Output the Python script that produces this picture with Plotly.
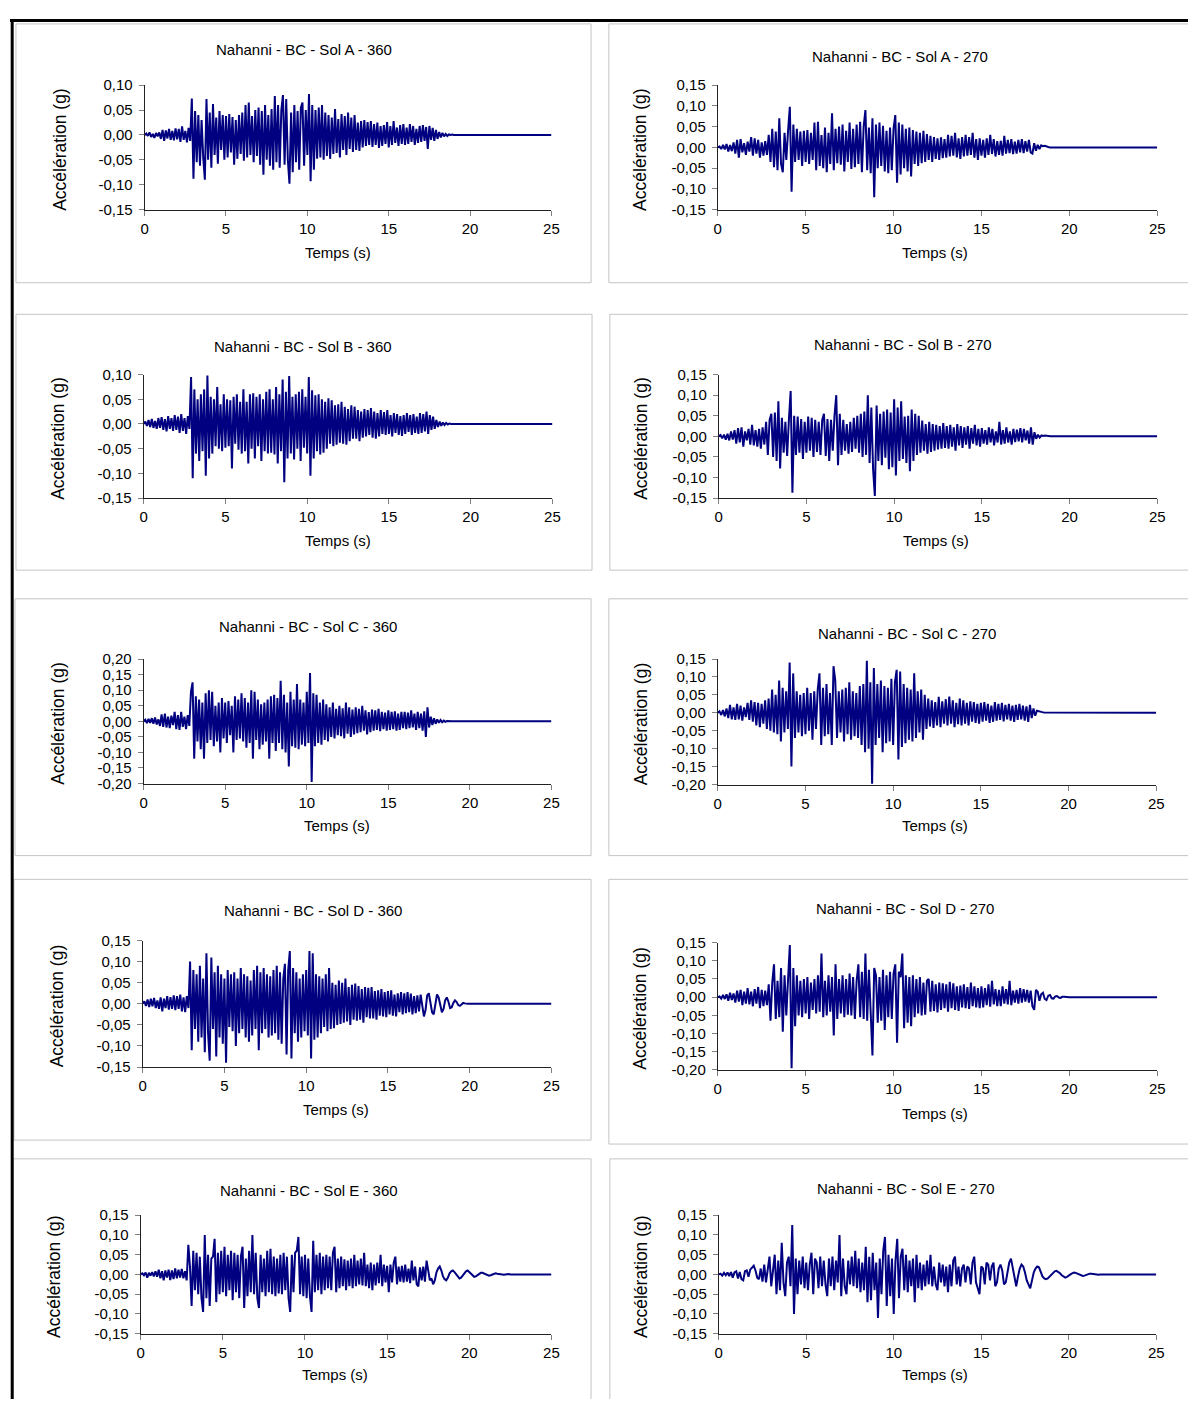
import plotly.graph_objects as go

W, H = 1196, 1407          # size of the page as photographed
PAGE_MARGIN = 8            # default body margin of the html page
FIG_W, FIG_H = W - 2 * PAGE_MARGIN, H - 2 * PAGE_MARGIN
DT = 0.1          # sampling step of the digitised records (s)
T_END = 25.0      # end of record (s)
TAIL_VALUE = 0    # record is at rest at the end
SCALE = 1000.0    # values below are in milli-g

TITLES = [
    "Nahanni - BC - Sol A - 360", "Nahanni - BC - Sol A - 270",
    "Nahanni - BC - Sol B - 360", "Nahanni - BC - Sol B - 270",
    "Nahanni - BC - Sol C - 360", "Nahanni - BC - Sol C - 270",
    "Nahanni - BC - Sol D - 360", "Nahanni - BC - Sol D - 270",
    "Nahanni - BC - Sol E - 360", "Nahanni - BC - Sol E - 270",
]
Y_LABEL = "Accélération (g)"
X_LABEL = "Temps (s)"
X_TICKS = [0, 5, 10, 15, 20, 25]
Y_STEP = 0.05
Y_RANGES = [(-0.15, 0.10), (-0.15, 0.15), (-0.15, 0.10), (-0.15, 0.15),
            (-0.20, 0.20), (-0.20, 0.15), (-0.15, 0.15), (-0.20, 0.15),
            (-0.15, 0.15), (-0.15, 0.15)]

A360 = [
    0, 3, -2, 5, -4, 2, -6, 4, -3, 5,
    -8, 10, -12, 9, -7, 12, -10, 8, -11, 13,
    -9, 12, -14, 17, -10, 8, -15, 14, -12, 73,
    -88, 48, -55, 40, -62, 30, -45, -90, 72, -50,
    45, -66, 62, -40, 35, -58, 48, -30, 40, -50,
    38, -45, 42, -35, 36, -60, 30, -48, 40, -38,
    45, -52, 60, -45, 65, -40, 38, -55, 50, -42,
    55, -60, 48, -80, 60, -50, 40, -62, 52, -70,
    78, -55, 60, -66, 50, 80, -60, 72, -50, -98,
    45, -75, 60, -55, 48, -70, 55, 65, -62, 50,
    -40, 82, -93, 60, -70, 50, -48, 55, -45, 60,
    -50, 45, -42, 40, -48, 35, -38, 52, -36, 32,
    -45, 42, -30, 38, -40, 45, -28, 35, -34, 40,
    -30, 25, -32, 28, -25, 30, -22, 26, -20, 28,
    -24, 22, -20, 25, -26, 18, -22, 20, -18, 26,
    -25, 18, -20, 28, -16, 15, -22, 20, -18, 22,
    -20, 15, -18, 22, -14, 18, -20, 12, -16, 18,
    -14, 20, -12, 16, -28, 18, -10, 14, -12, 10,
    -8, 6, -5, 4, -3, 2, -2, 1, 0, 1,
    0,
]

A270 = [
    0, 2, -4, 6, -5, 8, -10, 6, -9, 12,
    -15, 18, -25, 20, -12, 10, -18, 14, -10, 25,
    -20, 22, -15, 18, -25, 12, -20, 15, -18, 30,
    -35, 45, -48, 38, -55, 70, -40, -60, 35, -30,
    40, 98, -107, 55, -35, 45, -30, 38, -45, 40,
    -35, 42, -40, 35, -30, 60, -55, 62, -45, 30,
    -50, 48, -60, 35, -40, 82, -55, 45, -38, 50,
    -42, 55, -58, 40, -35, 60, -52, 45, -48, 55,
    -40, 62, -60, 50, 90, -55, 48, -62, 70, -120,
    55, -50, 60, -45, 52, -58, 40, -62, 48, -55,
    45, 78, -85, 60, -65, 55, -50, 45, -58, 48,
    -70, 42, -40, 38, -45, 35, -38, 40, -35, 32,
    -30, 28, -35, 25, -28, 22, -30, 24, -26, 20,
    -25, 30, -22, 28, -20, 35, -24, 22, -28, 25,
    -22, 30, -20, 25, -18, 35, -25, 20, -30, 22,
    -20, 18, -25, 22, -18, 30, -16, 20, -22, 15,
    -18, 16, -20, 28, -15, 18, -14, 20, -16, 14,
    -15, 18, -12, 20, -14, 15, -10, 18, -12, -15,
    10, -8, 6, -4, 5, 3, 4, 2, 1, 0,
    0,
]

B360 = [
    0, 5, -4, 8, -6, 10, -8, 6, -10, 12,
    -8, 14, -12, 10, -15, 16, -10, 12, -14, 18,
    -12, 15, -18, 20, -14, 12, -20, 16, -10, 95,
    -110, 70, -60, 50, -75, 60, -55, 70, -105, 98,
    -70, 55, -60, 50, -45, 75, -50, 40, -55, 60,
    -48, 50, -45, 48, -90, 55, -40, 60, -52, 45,
    -60, 70, -55, 45, -80, 60, -50, 62, -70, 55,
    -45, 60, -75, 50, -55, 65, -60, 70, -58, 50,
    -62, 75, -80, 60, -55, 90, -118, 65, -70, 97,
    -60, 55, -72, 60, -50, 65, -75, 70, -48, 55,
    -60, 95, -105, 68, -70, 58, -55, 60, -62, 50,
    -58, 45, -50, 52, -40, 48, -45, 38, -42, 40,
    -38, 45, -40, 35, -42, 30, -35, 38, -30, 35,
    -30, 28, -35, 25, -28, 30, -25, 28, -22, 32,
    -28, 25, -30, 22, -25, 28, -20, 24, -22, 28,
    -20, 18, -25, 22, -18, 20, -22, 16, -24, 18,
    -20, 22, -16, 18, -22, 20, -18, 15, -20, 22,
    -18, 20, -15, 25, -20, 18, -12, 15, -10, 8,
    -6, 5, -4, 3, -2, 2, -1, 1, 0, 0,
    0,
]

B270 = [
    0, 3, -5, 4, -8, 6, -10, 12, -8, 15,
    -18, 20, -15, 22, -25, 12, -10, 18, -20, 28,
    -22, 15, -25, 18, -30, 22, -20, 35, -45, 40,
    55, -50, 58, -60, 85, -78, 45, -40, 35, -48,
    40, 110, -137, 50, -45, 48, -40, 42, -55, 35,
    -40, 48, -35, 45, -50, 40, -38, 35, -45, 40,
    55, -48, 42, -60, 40, -35, 50, 100, -70, 55,
    -45, 40, -35, 30, -42, 35, -38, 45, -30, 50,
    -40, 55, -50, 60, -45, 100, -65, 70, -80, -145,
    75, -60, 55, -70, 60, -52, 65, -80, 58, -75,
    90, -95, 70, -60, 85, -55, 48, -65, 50, -85,
    65, -60, 55, -45, 50, -40, 38, -35, 30, -42,
    35, -38, 30, -35, 28, -32, 25, -30, 32, -28,
    25, -30, 28, -25, 22, -35, 30, -22, 25, -28,
    22, -20, 25, -30, 20, -18, 28, -22, 18, -25,
    20, -18, 15, -20, 22, -15, 18, -22, 12, -15,
    35, -20, 15, -18, 22, -15, 12, -20, 18, -14,
    16, -12, 20, -15, 18, -10, 14, -18, 22, -20,
    10, -6, 4, -3, 2, 1, 2, 1, 0, 0,
    0,
]

C360 = [
    0, 5, -6, 8, -5, 10, -8, 12, -10, 6,
    -15, 22, -18, 25, -20, 15, -22, 18, -12, 30,
    -25, 20, -28, 30, -18, 15, -25, 20, -15, 95,
    125, -120, 80, -65, 70, -90, 60, -120, 90, -70,
    100, -60, 95, -80, 50, -65, 60, -100, 75, -55,
    60, -70, 65, -45, 50, -100, 80, -60, 70, -55,
    90, -65, 75, -85, 60, -70, 100, -120, 95, -60,
    70, -90, 55, -75, 60, -65, 70, -120, 80, -70,
    85, -95, 75, -70, 130, -90, 85, -100, 60, -145,
    95, -80, 70, -85, 120, -90, 70, -75, 60, -80,
    95, -70, 155, -195, 90, -80, 85, -70, 60, -75,
    70, -60, 55, -65, 45, -50, 60, -55, 40, -45,
    50, -48, 42, -55, 60, -40, 45, -50, 38, -42,
    45, -38, 40, -35, 50, -30, 35, -42, 30, -35,
    38, -30, 35, -28, 40, -32, 30, -25, 28, -30,
    35, -28, 30, -25, 32, -30, 25, -28, 30, -22,
    30, -25, 28, -22, 35, -20, 25, -28, 30, -22,
    25, -30, 32, -50, 45, -20, 15, -12, 10, -8,
    6, -5, 4, -3, 2, -2, 1, 0, 1, 0,
    0,
]

C270 = [
    0, 4, -6, 8, -10, 12, -15, 22, -18, 15,
    -20, 25, -18, 20, -22, 15, -12, 28, -20, 35,
    -25, 30, -35, 28, -40, 25, -30, 35, -45, 40,
    -50, 65, -55, 50, -60, 90, -80, 70, -55, 60,
    -45, 140, -150, 110, -70, 60, -55, 50, -65, 55,
    -60, 70, -50, 55, -75, 60, -45, 65, 110, -90,
    70, -65, 80, -60, 55, -90, 130, 90, -70, 60,
    -55, 65, -80, 70, -60, 85, -75, 60, -65, 55,
    -70, 75, -90, 80, -110, 145, -100, 85, -198, 125,
    -90, 80, -70, 90, -110, 75, -85, 70, -80, 95,
    -90, 85, 120, -130, 115, -95, 80, -85, 70, -75,
    65, -80, 110, -70, 60, -55, 65, -75, 50, -45,
    40, -38, 35, -42, 30, -35, 45, -40, 32, -30,
    38, -35, 45, -30, 35, -40, 28, -32, 40, -35,
    35, -30, 28, -35, 32, -25, 30, -28, 25, -30,
    28, -25, 30, -22, 25, -28, 20, -25, 30, -22,
    25, -20, 28, -24, 22, -18, 25, -22, 20, -25,
    22, -20, 25, -18, 20, -22, 18, -25, 22, -15,
    12, -8, 6, 4, 3, 2, 1, 1, 0, 0,
    0,
]

D360 = [
    0, 6, -5, 10, -8, 12, -6, 14, -10, 8,
    -12, 15, -18, 12, -10, 18, -14, 16, -12, 20,
    -15, 18, -12, 22, -18, 15, -20, 18, -10, 100,
    -110, 80, -60, 70, -90, 90, -80, 60, -115, 120,
    -70, -135, 110, -60, 75, -125, 90, -80, 70, -95,
    60, -140, 80, -55, 70, -65, 75, -100, 60, -70,
    85, -60, 70, -80, 65, -90, 55, -75, 80, -60,
    90, -110, 75, -70, 85, -60, 70, -80, 65, -75,
    80, -70, 90, -85, 75, -95, 60, 95, -120, 80,
    125, -130, 85, -70, 75, -90, 60, -80, 70, -65,
    80, -75, 125, -130, 120, -85, 70, -80, 65, -70,
    60, -55, 70, -65, 85, -60, 50, -58, 45, -50,
    55, -48, 50, -45, 60, -42, 40, -50, 45, -38,
    48, -40, 42, -38, 35, -45, 40, -32, 38, -35,
    40, -35, 30, -38, 32, -28, 35, -30, 28, -32,
    30, -25, 32, -28, 22, -30, 25, -20, 28, -25,
    25, -22, 28, -20, 24, -25, 18, -22, 20, -18,
    22, -10, -30, -15, 20, 25, 5, -20, -25, 0,
    22, 15, -5, -20, -12, 8, 15, 5, -10, -8,
    2, 8, 4, -3, -5, -1, 2, 1, 0, 0,
    0,
]

D270 = [
    0, 2, -4, 6, -5, 8, -10, 12, -8, 10,
    -15, 18, -12, 20, -22, 15, -18, 25, -20, 15,
    -25, 22, -18, 28, -30, 20, -25, 18, -22, 35,
    -65, 40, 90, -60, 45, -55, 80, -95, 60, -50,
    50, 143, -195, 80, -80, 60, -50, 45, -55, 50,
    -45, 55, -60, 40, -35, 50, -45, 60, -40, 120,
    -55, 45, -50, 60, -40, 55, -105, 90, -60, 50,
    -45, 60, -55, 50, -48, 65, -50, 55, -60, 45,
    90, -55, 70, -60, 120, -65, 75, -50, -160, 80,
    60, -70, 55, -65, 75, -90, 60, -55, 70, -60,
    65, 90, -125, 70, 55, 120, -85, 60, -70, 55,
    -80, 60, -55, 50, -45, 55, -50, 40, -48, 45,
    50, -40, 45, -38, 35, -42, 40, -35, 38, -30,
    35, -40, 42, -30, 38, -35, 30, -38, 32, -28,
    35, -30, 28, -32, 40, -25, 30, -28, 25, -30,
    30, -28, 25, -22, 35, -26, 45, -20, 22, -25,
    20, -25, 30, -18, 22, -20, 45, -22, 18, -15,
    20, -18, 25, -15, 22, -12, 20, -15, 18, -25,
    -35, 20, 15, -10, 8, 12, -5, -8, 4, 6,
    -3, -4, 2, 3, -1, -2, 1, 1, 0, 0,
    0,
]

E360 = [
    0, 3, -2, 5, -8, 4, -3, 6, -5, 8,
    -6, 12, -10, 8, -15, 10, -8, 12, -14, 10,
    -12, 15, -10, 12, -8, 14, -10, 8, -15, 75,
    20, -80, 60, -40, 55, -50, 45, -60, -95, 100,
    -60, 50, -80, 40, 45, 90, -70, 55, -50, 60,
    -45, 70, -55, 50, -40, 60, -65, 55, -45, 50,
    -60, 45, 70, -85, 40, -55, 60, -45, 100, -50,
    55, -60, -85, 50, -45, 40, -55, 60, -45, 65,
    -50, 45, -55, 40, -48, 50, -50, 55, -40, 45,
    -60, -95, 50, -45, 55, 60, 95, -50, 45, -55,
    50, -60, 40, -55, -95, 85, -45, 50, -40, 55,
    -50, 45, -40, 50, -35, 45, -40, 55, 70, -45,
    40, -35, 45, -30, 38, -40, 35, -30, 40, -35,
    50, -30, 35, -25, 40, -28, 55, -30, 25, -35,
    30, -40, 25, -28, 30, -22, 50, -30, 25, -20,
    22, -45, 25, -20, 30, 45, -25, 20, -18, 22,
    -20, 25, -18, 15, -22, 35, -15, 20, -25, -30,
    18, -15, 20, -18, 35, 12, -15, -10, -25, -15,
    5, 15, 20, 10, -5, -12, -15, -8, 3, 8,
    10, 6, 0, -6, -10, -8, -3, 3, 8, 10,
    6, 1, -4, -6, -5, -2, 2, 4, 4, 2,
    0, -2, -3, -2, 0, 2, 3, 2, 1, 0,
    -1, -1, 0, 1, 1, 0, 0, 0, 0, 0,
    0,
]

E270 = [
    0, 2, -3, 4, -2, 5, -4, 6, -8, 5,
    8, -10, 6, -12, -15, 8, 10, -6, 12, 18,
    22, 10, -8, -12, 15, -18, 25, -20, 12, 45,
    -30, 20, 50, -50, 35, -40, 80, -20, -55, 30,
    45, -30, 125, -100, 40, -50, 35, -25, 45, -35,
    30, -40, 25, 55, -50, 40, 30, -35, 45, -30,
    35, -25, -55, 40, -30, 45, -40, 35, -20, 100,
    -55, 40, -30, -50, 35, -25, 45, -30, 60, -35,
    40, -45, 30, -40, 70, -70, 45, -65, 55, -40,
    30, -110, 40, -50, 60, 95, -80, 50, -55, 40,
    -100, 35, 90, -60, 45, 65, -40, 50, -45, 35,
    -30, 40, -70, 50, -35, 30, -40, 25, -30, 35,
    -25, 50, -30, 20, -25, -40, 30, -20, 25, -30,
    20, -45, 25, -30, 35, 45, -25, 20, -30, 15,
    25, -20, 20, 15, -25, 30, 45, -20, -35, -50,
    20, 15, -25, 30, 25, -15, 20, 30, -30, -20,
    15, 25, 10, -25, -20, 10, 30, 40, 15, -15,
    -30, -5, 15, 25, 20, 5, -15, -25, -35, -15,
    5, 15, 20, 18, 8, -5, -10, -12, -10, -6,
    -2, 4, 8, 9, 7, 3, -2, -6, -8, -6,
    -4, 0, 3, 5, 4, 2, 0, -3, -4, -3,
    -1, 1, 2, 2, 1, 0, -1, -1, 0, 0,
    0,
]

SERIES = [A360, A270, B360, B270, C360, C270, D360, D270, E360, E270]

# ---------------- layout (pixel geometry of each chart, page coordinates) ----------------
# plot area: (x_left, x_right, y_top, y_bottom); box: (x0, y0, x1, y1)
PANELS = [
    dict(plot=(142, 553, 77, 203), box=(12, 15, 593, 277), title=(303, 41), xt=(337, 246), yt=57),
    dict(plot=(721, 1165, 77, 203), box=(611, 15, 1204, 277), title=(905, 48), xt=(940, 246), yt=643),
    dict(plot=(141, 554, 370, 495), box=(12, 309, 594, 568), title=(302, 342), xt=(337, 538), yt=55),
    dict(plot=(722, 1165, 370, 495), box=(612, 309, 1204, 568), title=(908, 340), xt=(941, 538), yt=644),
    dict(plot=(141, 553, 658, 784), box=(11, 597, 593, 857), title=(307, 625), xt=(336, 826), yt=55),
    dict(plot=(721, 1164, 658, 785), box=(611, 597, 1204, 857), title=(912, 632), xt=(940, 827), yt=643),
    dict(plot=(140, 553, 943, 1071), box=(10, 881, 593, 1145), title=(312, 913), xt=(335, 1114), yt=53),
    dict(plot=(721, 1165, 945, 1074), box=(611, 881, 1204, 1149), title=(910, 911), xt=(940, 1118), yt=643),
    dict(plot=(138, 553, 1221, 1341), box=(9, 1164, 593, 1420), title=(308, 1196), xt=(334, 1382), yt=51),
    dict(plot=(722, 1164, 1221, 1341), box=(612, 1164, 1204, 1420), title=(911, 1194), xt=(940, 1382), yt=644),
]

FONT = "Liberation Sans, Arial, sans-serif"
FS = 15
FS_Y = 17.5
LINE_COLOR = "#000080"


def px(x):
    return (x - PAGE_MARGIN) / FIG_W


def py(y):
    return 1 - (y - PAGE_MARGIN) / FIG_H


def fmt(v):
    return f"{v:.2f}".replace(".", ",")


fig = go.Figure()
layout = dict(
    width=FIG_W, height=FIG_H, margin=dict(l=0, r=0, t=0, b=0),
    paper_bgcolor="white", plot_bgcolor="white", showlegend=False,
    shapes=[], annotations=[],
)

for i, (vals, pan, yr, title) in enumerate(zip(SERIES, PANELS, Y_RANGES, TITLES)):
    n = i + 1
    xs = [round(k * DT, 2) for k in range(len(vals))] + [T_END]
    ys = [v / SCALE for v in vals] + [TAIL_VALUE / SCALE]
    xa = "x" if n == 1 else f"x{n}"
    ya = "y" if n == 1 else f"y{n}"
    fig.add_trace(go.Scatter(x=xs, y=ys, mode="lines", xaxis=xa, yaxis=ya,
                             line=dict(color=LINE_COLOR, width=2.0), hoverinfo="skip"))
    xl, xr, yt, yb = pan["plot"]
    nt = int(round((yr[1] - yr[0]) / Y_STEP))
    yticks = [round(yr[0] + k * Y_STEP, 2) for k in range(nt + 1)]
    common = dict(showline=True, linecolor="#222222", linewidth=1, ticks="outside",
                  ticklen=5, tickcolor="#808080", tickwidth=1, showgrid=False, zeroline=False,
                  tickfont=dict(family=FONT, size=FS, color="black"), fixedrange=True)
    layout["xaxis" if n == 1 else f"xaxis{n}"] = dict(
        domain=[px(xl), px(xr)], anchor=ya, range=[X_TICKS[0], X_TICKS[-1]],
        tickvals=X_TICKS, ticktext=[str(v) for v in X_TICKS], **common)
    layout["yaxis" if n == 1 else f"yaxis{n}"] = dict(
        domain=[py(yb), py(yt)], anchor=xa, range=[yr[0], yr[1]],
        tickvals=yticks, ticktext=[fmt(v) for v in yticks], ticklabelstandoff=3, **common)

    bx0, by0, bx1, by1 = pan["box"]
    layout["shapes"].append(dict(type="rect", xref="paper", yref="paper",
                                 x0=px(bx0), x1=px(bx1), y0=py(by1), y1=py(by0),
                                 line=dict(color="#c4c4c4", width=1), layer="below"))
    tx, ty = pan["title"]
    layout["annotations"].append(dict(text=title, x=px(tx), y=py(ty), xref="paper", yref="paper",
                                      showarrow=False, xanchor="center", yanchor="middle",
                                      font=dict(family=FONT, size=FS, color="black")))
    ax, ay = pan["xt"]
    layout["annotations"].append(dict(text=X_LABEL, x=px(ax), y=py(ay), xref="paper", yref="paper",
                                      showarrow=False, xanchor="center", yanchor="middle",
                                      font=dict(family=FONT, size=FS, color="black")))
    layout["annotations"].append(dict(text=Y_LABEL, x=px(pan["yt"]), y=py((yt + yb) / 2 + 2),
                                      xref="paper", yref="paper", textangle=-90,
                                      showarrow=False, xanchor="center", yanchor="middle",
                                      font=dict(family=FONT, size=FS_Y, color="black")))

# page frame (black rules at top and left)
layout["shapes"].append(dict(type="line", xref="paper", yref="paper",
                             x0=px(6), x1=px(W + 10), y0=py(11.5), y1=py(11.5),
                             line=dict(color="black", width=3)))
layout["shapes"].append(dict(type="line", xref="paper", yref="paper",
                             x0=px(8.2), x1=px(8.2), y0=py(10), y1=py(H + 10),
                             line=dict(color="black", width=3)))

fig.update_layout(**layout)
fig.write_html("out.html", config={"displayModeBar": False, "responsive": False})
